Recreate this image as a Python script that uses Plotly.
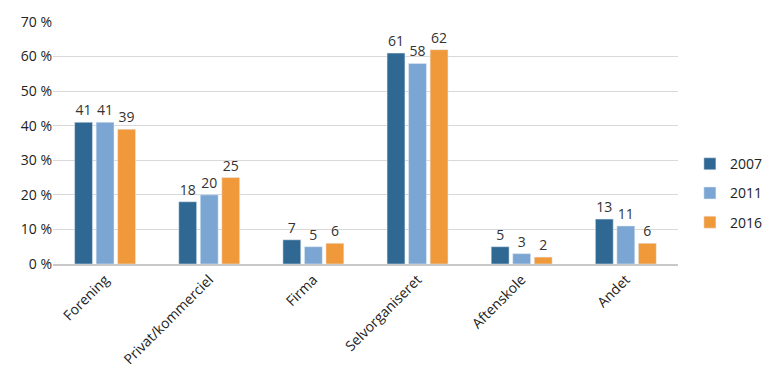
import plotly.graph_objects as go

categories = ["Forening", "Privat/kommerciel", "Firma", "Selvorganiseret", "Aftenskole", "Andet"]
v2007 = [41, 18, 7, 61, 5, 13]
v2011 = [41, 20, 5, 58, 3, 11]
v2016 = [39, 25, 6, 62, 2, 6]
ytick_vals = [0, 10, 20, 30, 40, 50, 60, 70]
ytick_text = [f"{v} %" for v in ytick_vals]

series = [("2007", v2007, "#2F6893"), ("2011", v2011, "#7BA6D3"), ("2016", v2016, "#F0993B")]

fig = go.Figure()
for name, vals, col in series:
    fig.add_trace(go.Bar(
        x=categories, y=vals, name=name, marker_color=col, legendgroup=name,
        text=[str(v) for v in vals], textposition="outside",
        textfont=dict(size=14, color="#333333"), cliponaxis=False,
    ))

fig.update_layout(
    width=764, height=381,
    margin=dict(l=53, r=84, t=21, b=117),
    barmode="group", bargap=0.38, bargroupgap=0.17,
    plot_bgcolor="white", paper_bgcolor="white",
    font=dict(family="Open Sans, sans-serif", size=14, color="#222222"),
    legend=dict(xref="container", yref="container", x=0.903, y=0.493,
                yanchor="middle", xanchor="left",
                font=dict(size=14), itemwidth=30, tracegroupgap=8,
                traceorder="grouped"),
    xaxis=dict(tickangle=-45, showline=True, linecolor="#C8C8C8", linewidth=2,
               ticks="", tickfont=dict(size=14)),
    yaxis=dict(range=[0, 70], tickvals=ytick_vals, ticktext=ytick_text,
               showgrid=True, gridcolor="#D9D9D9", zeroline=False,
               tickfont=dict(size=14), ticks=""),
)
fig.write_html("out.html", config={"displayModeBar": False},
               post_script="document.body.style.margin='0';")
